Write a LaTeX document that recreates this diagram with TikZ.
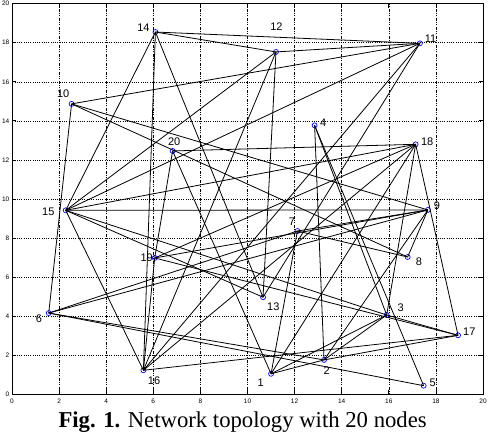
\documentclass[tikz,border=0pt]{standalone}
\usepackage{fontspec}
\setmainfont{Liberation Serif}
\newfontfamily\helv{Liberation Sans}
\begin{document}
\begin{tikzpicture}[x=1pt,y=1pt]
\tikzset{
  nd/.style={circle, draw=blue, inner sep=0pt, minimum size=5pt, line width=0.7pt},
  lbl/.style={font=\helv\fontsize{11}{11}\selectfont, inner sep=0pt},
  ticklbl/.style={font=\helv\fontsize{6.5}{6.5}\selectfont, inner sep=0pt},
  edge/.style={line width=0.8pt, black},
  gridl/.style={line width=0.6pt, dash pattern=on 1.4pt off 1.3pt on 0.5pt off 1.3pt},
  frame/.style={line width=0.8pt},
}
\useasboundingbox (0,0) rectangle (488,436);
\begin{scope}[shift={(12pt,41.7pt)}, x=23.55pt, y=19.53pt]
  % grid
  \foreach \v in {2,4,...,18} {
    \draw[gridl] (\v,0) -- (\v,20);
    \draw[gridl] (0,\v) -- (20,\v);
  }
  % ticks
  \foreach \v in {2,4,...,18} {
    \draw[frame] (\v,0) -- ++(0,4pt);
    \draw[frame] (\v,20) -- ++(0,-4pt);
    \draw[frame] (0,\v) -- ++(4pt,0);
    \draw[frame] (20,\v) -- ++(-4pt,0);
  }
  \draw[frame] (0,0) rectangle (20,20);
  % tick labels
  \foreach \v in {0,2,...,20} {
    \node[ticklbl] at ([yshift=-7pt]\v,0) {\v};
    \node[ticklbl, anchor=east] at ([xshift=-2.5pt]0,\v) {\v};
  }
  % nodes
  \node[nd] (n1) at (11.00,1.05) {};
  \node[nd] (n2) at (13.25,1.76) {};
  \node[nd] (n3) at (15.91,4.06) {};
  \node[nd] (n4) at (12.85,13.77) {};
  \node[nd] (n5) at (17.48,0.44) {};
  \node[nd] (n6) at (1.56,4.16) {};
  \node[nd] (n7) at (12.12,8.36) {};
  \node[nd] (n8) at (16.80,7.03) {};
  \node[nd] (n9) at (17.66,9.44) {};
  \node[nd] (n10) at (2.53,14.87) {};
  \node[nd] (n11) at (17.32,17.97) {};
  \node[nd] (n12) at (11.21,17.53) {};
  \node[nd] (n13) at (10.66,4.97) {};
  \node[nd] (n14) at (6.09,18.55) {};
  \node[nd] (n15) at (2.28,9.42) {};
  \node[nd] (n16) at (5.58,1.23) {};
  \node[nd] (n17) at (18.94,3.02) {};
  \node[nd] (n18) at (17.14,12.80) {};
  \node[nd] (n19) at (6.06,6.98) {};
  \node[nd] (n20) at (6.82,12.46) {};
  % labels
  \node[lbl] (l1) at ([shift={(-10.3pt,-9pt)}]n1.center) {1};
  \node[lbl] (l2) at ([shift={(2.7pt,-11pt)}]n2.center) {2};
  \node[lbl] (l3) at ([shift={(14pt,7.7pt)}]n3.center) {3};
  \node[lbl] (l4) at ([shift={(8.6pt,3pt)}]n4.center) {4};
  \node[lbl] (l5) at ([shift={(9pt,3.4pt)}]n5.center) {5};
  \node[lbl] (l6) at ([shift={(-9.7pt,-6pt)}]n6.center) {6};
  \node[lbl] (l7) at ([shift={(-5.6pt,9.3pt)}]n7.center) {7};
  \node[lbl] (l8) at ([shift={(11.3pt,-5pt)}]n8.center) {8};
  \node[lbl] (l9) at ([shift={(9pt,4pt)}]n9.center) {9};
  \node[lbl] (l10) at ([shift={(-8.4pt,10pt)}]n10.center) {10};
  \node[lbl] (l11) at ([shift={(10.7pt,4.3pt)}]n11.center) {11};
  \node[lbl] (l12) at ([shift={(0.5pt,25pt)}]n12.center) {12};
  \node[lbl] (l13) at ([shift={(10.3pt,-9.4pt)}]n13.center) {13};
  \node[lbl] (l14) at ([shift={(-12pt,4.7pt)}]n14.center) {14};
  \node[lbl] (l15) at ([shift={(-17.4pt,-1.4pt)}]n15.center) {15};
  \node[lbl] (l16) at ([shift={(10.7pt,-10.7pt)}]n16.center) {16};
  \node[lbl] (l17) at ([shift={(11.3pt,3.3pt)}]n17.center) {17};
  \node[lbl] (l18) at ([shift={(11.6pt,3pt)}]n18.center) {18};
  \node[lbl] (l19) at ([shift={(-8pt,0pt)}]n19.center) {19};
  \node[lbl] (l20) at ([shift={(1.6pt,9.3pt)}]n20.center) {20};
  % edges
  \foreach \a/\b in {14/11,14/12,14/15,14/16,14/13,
                     12/11,12/15,12/16,12/13,
                     11/10,11/15,11/16,11/13,
                     10/6,10/9,10/8,
                     4/2,4/3,4/5,
                     20/18,20/19,20/1,
                     19/16,19/18,19/9,19/17,
                     15/18,15/9,15/3,15/16,15/13,
                     6/7,6/9,6/2,6/5,
                     7/9,7/8,7/1,
                     18/3,18/17,18/16,18/1,
                     9/8,9/2,
                     3/2,3/17,3/1,
                     1/2,16/17,2/17} {
    \draw[edge] (n\a.center) -- (n\b.center);
  }
\end{scope}
\node[anchor=base west, inner sep=0pt] (cap) at (58.3pt,8.3pt)
  {\fontsize{22.7}{26}\selectfont\textbf{Fig. 1.} Network topology with 20 nodes};
\end{tikzpicture}
\end{document}
